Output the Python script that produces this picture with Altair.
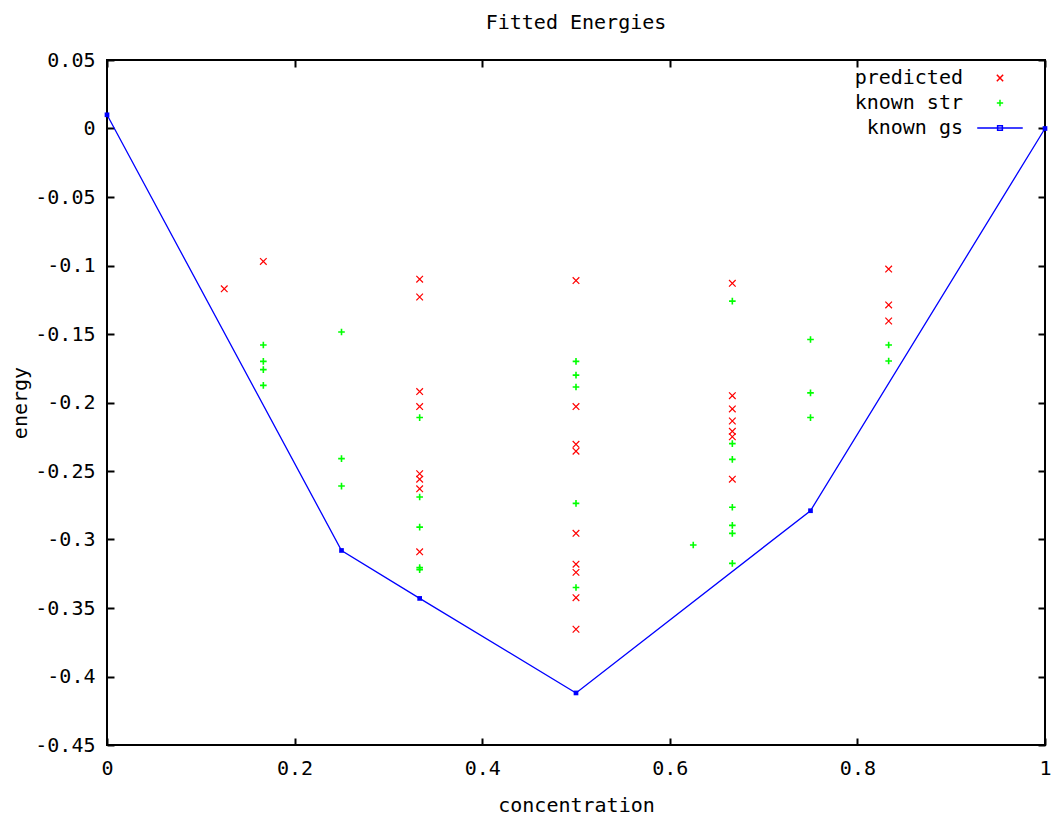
import altair as alt
import pandas as pd

# Predicted structures (red crosses)
pred_x = [0.125, 1/6,
          1/3, 1/3, 1/3, 1/3, 1/3, 1/3, 1/3, 1/3,
          0.5, 0.5, 0.5, 0.5, 0.5, 0.5, 0.5, 0.5, 0.5,
          2/3, 2/3, 2/3, 2/3, 2/3, 2/3, 2/3,
          5/6, 5/6, 5/6]
pred_y = [-0.117, -0.097,
          -0.110, -0.123, -0.192, -0.203, -0.252, -0.256, -0.263, -0.309,
          -0.111, -0.203, -0.2305, -0.2355, -0.2955, -0.318, -0.324, -0.3425, -0.3655,
          -0.113, -0.195, -0.2047, -0.2135, -0.221, -0.225, -0.256,
          -0.1026, -0.1288, -0.1405]

# Known structures (green plus signs)
str_x = [1/6, 1/6, 1/6, 1/6,
         0.25, 0.25, 0.25,
         1/3, 1/3, 1/3, 1/3, 1/3,
         0.5, 0.5, 0.5, 0.5, 0.5,
         0.625,
         2/3, 2/3, 2/3, 2/3, 2/3, 2/3, 2/3,
         0.75, 0.75, 0.75,
         5/6, 5/6]
str_y = [-0.158, -0.170, -0.176, -0.1875,
         -0.1485, -0.241, -0.261,
         -0.211, -0.269, -0.291, -0.3205, -0.322,
         -0.170, -0.180, -0.1887, -0.2736, -0.335,
         -0.304,
         -0.126, -0.230, -0.2415, -0.2765, -0.2897, -0.2955, -0.3174,
         -0.154, -0.193, -0.211,
         -0.158, -0.1697]

# Known ground states (convex hull)
gs_x = [0.0, 0.25, 1/3, 0.5, 0.75, 1.0]
gs_y = [0.010, -0.308, -0.343, -0.412, -0.279, 0.0]

series_names = ["predicted", "known str", "known gs"]
series_colors = ["#ff0000", "#00ff00", "#0000ff"]

x_ticks = [0, 0.2, 0.4, 0.6, 0.8, 1]
y_ticks = [0.05, 0, -0.05, -0.1, -0.15, -0.2, -0.25, -0.3, -0.35, -0.4, -0.45]

FONT = "DejaVu Sans Mono"
FS = 20
TICK = 7

# plot symbols: "x" and "+"
X_PATH = "M-1,-1L1,1M-1,1L1,-1"
PLUS_PATH = "M-1,0L1,0M0,-1L0,1"
# key symbols: the same glyphs (plus a line-with-square for the hull),
# drawn to the right of the right-aligned key labels
KEY_X_PATH = "M13.86,-1L15.86,1M13.86,1L15.86,-1"
KEY_PLUS_PATH = "M13.86,0L15.86,0M14.86,-1L14.86,1"
KEY_GS_PATH = "M7.66,0L22.06,0M14.11,-0.75L15.61,-0.75L15.61,0.75L14.11,0.75Z"

points = pd.concat([
    pd.DataFrame({"x": pred_x, "y": pred_y, "series": "predicted"}),
    pd.DataFrame({"x": str_x, "y": str_y, "series": "known str"}),
], ignore_index=True)
hull = pd.DataFrame({"x": gs_x, "y": gs_y})

xs = alt.Scale(domain=[0, 1], nice=False, zero=False)
ys = alt.Scale(domain=[-0.45, 0.05], nice=False, zero=False)
label_expr = "replace(format(datum.value, '~g'), '\u2212', '-')"

# ticks point inward: each axis is pulled inside the frame by its tick length
common_axis = dict(
    offset=-TICK, tickSize=TICK, tickWidth=2, tickColor="black",
    domain=False, grid=False, labelFlush=False, labelOverlap=False,
    labelFont=FONT, labelFontSize=FS, labelColor="black",
    titleFont=FONT, titleFontSize=FS, titleColor="black", titleFontWeight="normal",
)

x_bottom = alt.Axis(values=x_ticks, labelExpr=label_expr, title="concentration",
                    orient="bottom", labelPadding=13, titlePadding=17, **common_axis)
y_left = alt.Axis(values=y_ticks, labelExpr=label_expr, title="energy",
                  orient="left", labelPadding=12, titlePadding=4, **common_axis)
x_top = alt.Axis(values=x_ticks, labels=False, title=None, orient="top", **common_axis)
y_right = alt.Axis(values=y_ticks, labels=False, title=None, orient="right", **common_axis)

color_scale = alt.Scale(domain=series_names, range=series_colors)
width_scale = alt.Scale(domain=series_names, range=[1.2, 2, 1.3])

hull_layer = alt.Chart(hull).mark_line(
    color="#0000ff", strokeWidth=1.3,
    point=alt.OverlayMarkDef(shape="square", filled=True, size=22, color="#0000ff", opacity=1),
).encode(
    x=alt.X("x:Q", scale=xs, axis=x_bottom),
    y=alt.Y("y:Q", scale=ys, axis=y_left),
)

point_layer = alt.Chart(points).mark_point(filled=False, size=44, opacity=1).encode(
    x=alt.X("x:Q", scale=xs, axis=x_top),
    y=alt.Y("y:Q", scale=ys, axis=y_right),
    color=alt.Color("series:N", scale=color_scale, legend=None),
    shape=alt.Shape("series:N", scale=alt.Scale(domain=series_names,
                                                range=[X_PATH, PLUS_PATH, X_PATH]),
                    legend=None),
    strokeWidth=alt.StrokeWidth("series:N", scale=width_scale, legend=None),
)

# key in the top-right corner (this layer draws no marks, only the key)
legend = alt.Legend(
    title=None, orient="none", legendX=796, legendY=8, padding=0, rowPadding=5,
    labelAlign="right", labelOffset=0, symbolOffset=40,
    labelFont=FONT, labelFontSize=FS, labelColor="black",
    symbolSize=40, symbolStrokeWidth=1.5,
)
key_layer = alt.Chart(points).transform_filter("datum.x > 2").mark_point(
    filled=False, size=40, opacity=1
).encode(
    x=alt.X("x:Q", scale=xs, axis=None),
    y=alt.Y("y:Q", scale=ys, axis=None),
    color=alt.Color("series:N", scale=color_scale, legend=legend),
    shape=alt.Shape("series:N", scale=alt.Scale(domain=series_names,
                                                range=[KEY_X_PATH, KEY_PLUS_PATH, KEY_GS_PATH]),
                    legend=legend),
)

chart = alt.layer(hull_layer, point_layer, key_layer).resolve_axis(
    x="independent", y="independent"
).resolve_scale(
    color="independent", shape="independent"
).properties(
    width=938, height=685,
    background="white",
    autosize=alt.AutoSizeParams(type="none"),
    padding={"left": 107, "top": 60, "right": 6, "bottom": 72},
    title=alt.TitleParams("Fitted Energies", font=FONT, fontSize=FS, fontWeight="normal",
                          color="black", offset=17),
).configure_view(
    stroke="black", strokeWidth=2
)

chart.save("out.html", embed_options={"renderer": "svg", "actions": False})
